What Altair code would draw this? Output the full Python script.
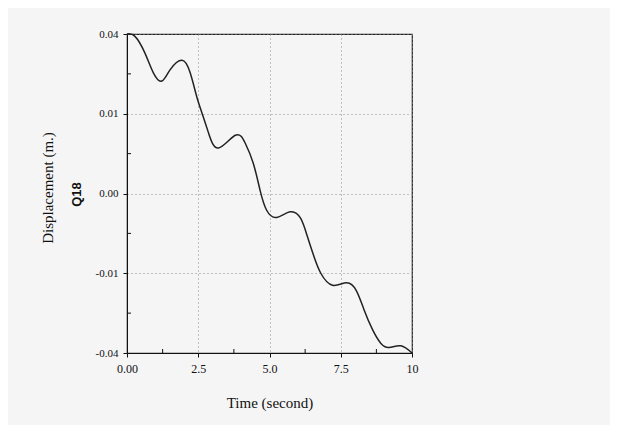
import altair as alt
import pandas as pd

# Curve
time_s = [0.00, 0.28, 0.63, 0.93, 1.22, 1.51, 1.93, 2.22, 2.45, 2.63, 2.86, 3.21, 3.80,
          4.15, 4.43, 4.67, 4.90, 5.25, 5.72, 6.09, 6.33, 6.56, 6.80, 7.21, 7.70, 8.05,
          8.32, 8.62, 8.91, 9.20, 9.61, 10.0]
disp_m = [0.0200, 0.0197, 0.0176, 0.0151, 0.0141, 0.0155, 0.0167, 0.0151, 0.0121, 0.0101,
          0.0076, 0.0057, 0.0073, 0.0063, 0.0038, 0.0004, -0.0021, -0.0030, -0.0023,
          -0.0031, -0.0054, -0.0079, -0.0100, -0.0115, -0.0112, -0.0122, -0.0146,
          -0.0171, -0.0188, -0.0193, -0.0191, -0.0200]

# Axis ticks and the labels as printed
x_ticks = [0, 2.5, 5, 7.5, 10]
x_labels = ["0.00", "2.5", "5.0", "7.5", "10"]
y_ticks = [0.02, 0.01, 0.0, -0.01, -0.02]
y_labels = ["0.04", "0.01", "0.00", "-0.01", "-0.04"]
x_minor = [1.25, 3.75, 6.25, 8.75]
y_minor = [0.015, 0.005, -0.005, -0.015]

W, H = 285, 319
serif = "Liberation Serif"

df = pd.DataFrame({"t": time_s, "d": disp_m})
xmin = pd.DataFrame({"t": x_minor})
ymin = pd.DataFrame({"d": y_minor})

def lab_expr(vals, labs):
    parts = []
    for v, l in zip(vals, labs):
        parts.append(f"abs(datum.value - ({v})) < 1e-9 ? '{l}'")
    return " : ".join(parts) + " : ''"

xscale = alt.Scale(domain=[0, 10], nice=False, zero=False)
yscale = alt.Scale(domain=[-0.02, 0.02], nice=False, zero=False)

line = alt.Chart(df).mark_line(color="#222222", strokeWidth=1.5, interpolate="natural").encode(
    x=alt.X("t:Q", scale=xscale,
            axis=alt.Axis(values=x_ticks, labelExpr=lab_expr(x_ticks, x_labels),
                          title="Time (second)", titleFont=serif, titleFontSize=15,
                          titleFontWeight="normal", titleColor="#111",
                          titleBaseline="top", titleY=42, titleX=W / 2,
                          labelFont=serif, labelFontSize=12, labelColor="#111",
                          labelPadding=6, tickSize=4, tickColor="#111",
                          domainColor="#111", grid=True, gridDash=[1, 3],
                          gridColor="#888", labelFlush=False)),
    y=alt.Y("d:Q", scale=yscale,
            axis=alt.Axis(values=y_ticks, labelExpr=lab_expr(y_ticks, y_labels),
                          title="Displacement (m.)", titleFont=serif, titleFontSize=15,
                          titleFontWeight="normal", titleColor="#111",
                          titleX=-80, titleY=H / 2 - 6, titleAngle=270,
                          titleAlign="center", titleBaseline="middle",
                          labelFont=serif, labelFontSize=11, labelColor="#111",
                          labelPadding=5, tickSize=4, tickColor="#111",
                          domainColor="#111", grid=True, gridDash=[1, 3],
                          gridColor="#888", labelFlush=False)),
)

xminor_ticks = alt.Chart(xmin).mark_rule(color="#111", strokeWidth=1).encode(
    x=alt.X("t:Q", scale=xscale), y=alt.value(H), y2=alt.value(H - 4))
yminor_ticks = alt.Chart(ymin).mark_rule(color="#111", strokeWidth=1).encode(
    y=alt.Y("d:Q", scale=yscale), x=alt.value(0), x2=alt.value(4))

q18 = alt.Chart(pd.DataFrame({"s": ["Q18"]})).mark_text(
    font="Liberation Sans", fontSize=13, fontWeight="bold", angle=270, color="#111",
    align="center", baseline="middle").encode(
    text="s:N", x=alt.value(-50), y=alt.value(H / 2 + 1))

chart = alt.layer(line, xminor_ticks, yminor_ticks, q18).properties(
    width=W, height=H,
    autosize=alt.AutoSizeParams(type="none"),
    padding={"left": 119, "top": 26, "right": 198, "bottom": 72},
    background="#f5f5f5",
).configure_view(stroke="#222", strokeWidth=1.2)

chart.save("out.html", embed_options={"renderer": "svg", "actions": False})
